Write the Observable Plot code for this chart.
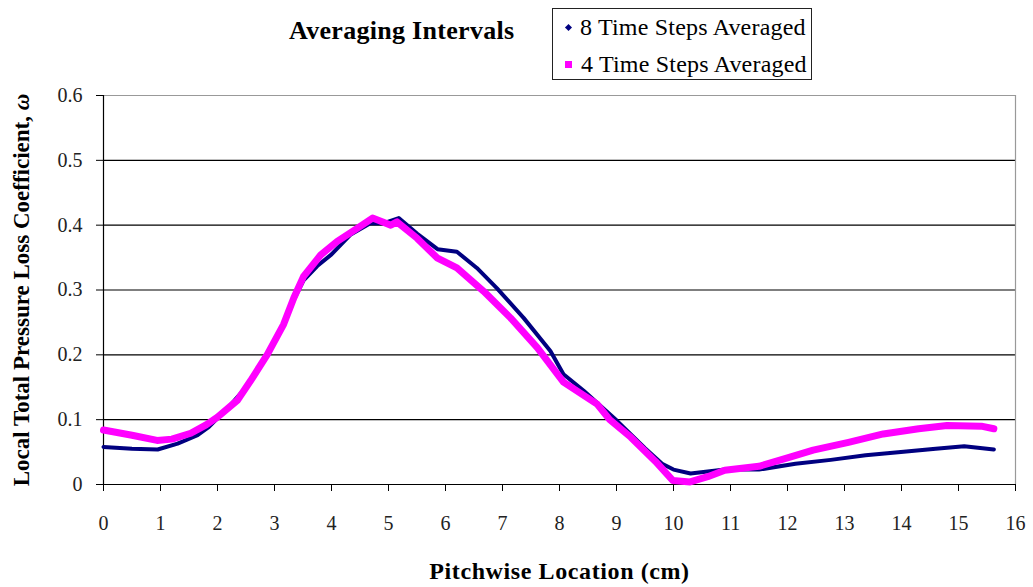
<!DOCTYPE html>
<html>
<head>
<meta charset="utf-8">
<script src="https://cdn.jsdelivr.net/npm/d3@7"></script>
<script src="https://cdn.jsdelivr.net/npm/@observablehq/plot@0.6"></script>
<style>
  html, body { margin: 0; padding: 0; background: #fff; }
  body { width: 1033px; height: 587px; position: relative; overflow: hidden; font-family: "Liberation Serif", "Times New Roman", serif; }
  #header { position: relative; height: 85px; }
  #title { position: absolute; left: 289px; top: 16px; font-size: 26px; line-height: 30px; font-weight: bold; color: #000; white-space: nowrap; letter-spacing: 0.3px; }
  #legend { position: absolute; left: 552px; top: 8px; width: 260px; height: 72px; border: 1.5px solid #222; box-sizing: border-box; }
  .row { position: absolute; left: 12px; font-size: 24px; line-height: 28px; color: #000; white-space: nowrap; letter-spacing: 0.2px; }
  .row .mk { display: inline-block; vertical-align: middle; margin-right: 9px; position: relative; top: -2px; }
  .diamond { width: 5px; height: 5px; background: #000080; transform: rotate(45deg); margin-left: 1px; }
  .square { width: 7px; height: 7px; background: #ff00ff; }
  #chart svg text { font-family: "Liberation Serif", "Times New Roman", serif; }
</style>
</head>
<body>
<div id="header">
  <div id="title">Averaging Intervals</div>
  <div id="legend"></div>
</div>
<div id="chart"></div>
<script>
const seriesNames = ["8 Time Steps Averaged", "4 Time Steps Averaged"];
const seriesColors = ["#000080", "#ff00ff"];

const xTicks = [0,1,2,3,4,5,6,7,8,9,10,11,12,13,14,15,16];
const yTicks = [0, 0.1, 0.2, 0.3, 0.4, 0.5, 0.6];

const x8 = [0, 0.5, 0.95, 1.3, 1.65, 1.85, 2.2, 2.58, 2.87, 3.16, 3.34, 3.51, 3.75, 4.0, 4.33, 4.68, 4.92, 5.18, 5.5, 5.86, 6.2, 6.55, 6.9, 7.37, 7.84, 8.07, 8.42, 9.0, 9.5, 9.8, 10.0, 10.3, 10.6, 10.9, 11.5, 12.14, 12.76, 13.37, 13.99, 14.6, 15.1, 15.62];
const y8 = [0.058, 0.055, 0.054, 0.063, 0.076, 0.089, 0.12, 0.158, 0.198, 0.245, 0.285, 0.315, 0.337, 0.355, 0.385, 0.403, 0.403, 0.411, 0.387, 0.363, 0.359, 0.334, 0.303, 0.257, 0.206, 0.17, 0.145, 0.099, 0.056, 0.032, 0.023, 0.017, 0.02, 0.023, 0.023, 0.032, 0.038, 0.045, 0.05, 0.055, 0.059, 0.054];

const x4 = [0, 0.5, 0.94, 1.2, 1.53, 1.8, 2.0, 2.35, 2.58, 2.87, 3.16, 3.34, 3.51, 3.81, 4.1, 4.45, 4.72, 4.9, 5.04, 5.15, 5.5, 5.86, 6.2, 6.67, 7.14, 7.61, 8.07, 8.66, 8.88, 9.25, 9.68, 9.99, 10.29, 10.6, 10.9, 11.5, 12.0, 12.45, 13.07, 13.68, 14.3, 14.8, 15.4, 15.62];
const y4 = [0.084, 0.076, 0.068, 0.07, 0.079, 0.092, 0.104, 0.13, 0.16, 0.2, 0.247, 0.288, 0.321, 0.354, 0.375, 0.395, 0.411, 0.405, 0.40, 0.405, 0.38, 0.349, 0.334, 0.298, 0.257, 0.211, 0.158, 0.124, 0.1, 0.073, 0.036, 0.006, 0.004, 0.012, 0.022, 0.028, 0.041, 0.053, 0.065, 0.078, 0.086, 0.091, 0.09, 0.086];

const d8 = x8.map((x, i) => ({x, y: y8[i]}));
const d4 = x4.map((x, i) => ({x, y: y4[i]}));

// legend
const legend = document.getElementById("legend");
seriesNames.forEach((name, i) => {
  const row = document.createElement("div");
  row.className = "row";
  row.style.top = (i === 0 ? 4 : 41) + "px";
  row.innerHTML = `<span class="mk ${i === 0 ? "diamond" : "square"}"></span>${name}`;
  legend.appendChild(row);
});

const serif = '"Liberation Serif", "Times New Roman", serif';
const chart = Plot.plot({
  width: 1033,
  height: 502,
  marginTop: 10,
  marginBottom: 103,
  marginLeft: 103,
  marginRight: 18,
  style: { fontFamily: serif, fontSize: "20px", color: "#000", background: "#fff" },
  x: { domain: [0, 16] },
  y: { domain: [0, 0.6] },
  marks: [
    Plot.axisX({ ticks: xTicks, tickSize: 7, tickPadding: 24, stroke: "#000", tickFormat: d => String(d),
      label: "Pitchwise Location (cm)", labelAnchor: "center", labelArrow: "none", labelOffset: 94 }),
    Plot.axisY({ ticks: yTicks, tickSize: 7, tickPadding: 14, tickFormat: d => d === 0 ? "0" : String(d),
      label: "Local Total Pressure Loss Coefficient, ω", labelAnchor: "center", labelArrow: "none", labelOffset: 91 }),
    Plot.ruleY(yTicks.filter(v => v > 0 && v < 0.6), { stroke: "#000", strokeWidth: 1.2 }),
    Plot.ruleY([0.6], { stroke: "#999", strokeWidth: 1.2 }),
    Plot.ruleX([16], { stroke: "#999", strokeWidth: 1.2 }),
    Plot.ruleX([0], { stroke: "#000", strokeWidth: 1.2 }),
    Plot.ruleY([0], { stroke: "#000", strokeWidth: 1.2 }),
    Plot.line(d8, { x: "x", y: "y", stroke: seriesColors[0], strokeWidth: 4, curve: "linear" }),
    Plot.line(d4, { x: "x", y: "y", stroke: seriesColors[1], strokeWidth: 7, curve: "linear" })
  ]
});
document.getElementById("chart").appendChild(chart);

const sel = d3.select(chart);
// axis labels: bold, larger, italic omega
const xl = sel.select("g[aria-label='x-axis label'] text");
xl.style("font-weight", "bold").style("font-size", "24px").style("letter-spacing", "0.6px");
const yl = sel.select("g[aria-label='y-axis label'] text");
yl.style("font-weight", "bold").style("font-size", "23px");
if (!yl.empty()) {
  const txt = yl.text();
  const base = txt.replace(/ω$/, "");
  yl.text("");
  yl.append("tspan").text(base);
  yl.append("tspan").attr("font-style", "italic").text("ω");
}
sel.selectAll("g[aria-label='x-axis tick label'] text, g[aria-label='y-axis tick label'] text")
  .attr("fill", "#222");
</script>
</body>
</html>
